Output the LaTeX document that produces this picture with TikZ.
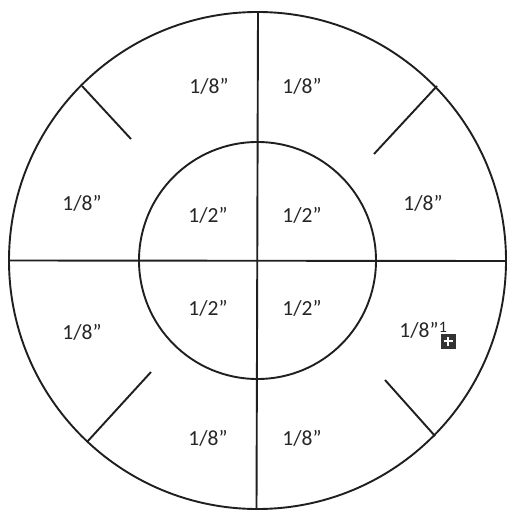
\documentclass[tikz,border=0pt]{standalone}
\usepackage{fontspec}
\setmainfont{Carlito}
\newcommand{\qmark}{\symbol{34}}
\begin{document}
\begin{tikzpicture}[x=1pt,y=-1pt,
  ln/.style={line width=1.9pt,draw=black!88},
  lab/.style={font=\fontsize{21.5}{25}\selectfont,text=black!85,inner sep=0pt}]
\useasboundingbox (0,0) rectangle (506,510);
\fill[white] (0,0) rectangle (506,510);
\coordinate (c) at (257.5,260.5);
\draw[ln] (c) circle[radius=248.5];
\draw[ln] (c) circle[radius=118.5];
\coordinate (vt) at (258,12);
\coordinate (vb) at (256.5,510);
\coordinate (hl) at (9,260.5);
\coordinate (hr) at (506,261);
\draw[ln] (vt) -- (vb);
\draw[ln] (hl) -- (hr);
% ticks
\coordinate (t1o) at (82,86);  \coordinate (t1i) at (131,139);
\coordinate (t2o) at (437,86); \coordinate (t2i) at (374,154);
\coordinate (t3o) at (87,442); \coordinate (t3i) at (151,372);
\coordinate (t4o) at (435,436);\coordinate (t4i) at (385,380);
\draw[ln] (t1o) -- (t1i);
\draw[ln] (t2o) -- (t2i);
\draw[ln] (t3o) -- (t3i);
\draw[ln] (t4o) -- (t4i);
% labels
\node[lab] (a1) at (209,86) {1/8\qmark};
\node[lab] (a2) at (302,86) {1/8\qmark};
\node[lab] (a3) at (82,203) {1/8\qmark};
\node[lab] (a4) at (423,203) {1/8\qmark};
\node[lab] (b1) at (208,215) {1/2\qmark};
\node[lab] (b2) at (302,215) {1/2\qmark};
\node[lab] (b3) at (208,308) {1/2\qmark};
\node[lab] (b4) at (302,308) {1/2\qmark};
\node[lab] (a5) at (82,332) {1/8\qmark};
\node[lab] (a6) at (419,330) {1/8\qmark};
\node[lab,font=\fontsize{16}{18}\selectfont] (one) at (443,327) {1};
\node[fill=black!80,minimum size=15pt,inner sep=0pt] (ico) at (448,341) {};
\draw[white,line width=1.8pt] ([xshift=-4.5pt]ico.center) -- ([xshift=4.5pt]ico.center);
\draw[white,line width=1.8pt] ([yshift=-4.5pt]ico.center) -- ([yshift=4.5pt]ico.center);
\node[lab] (a7) at (208,438) {1/8\qmark};
\node[lab] (a8) at (302,438) {1/8\qmark};
\end{tikzpicture}
\end{document}
